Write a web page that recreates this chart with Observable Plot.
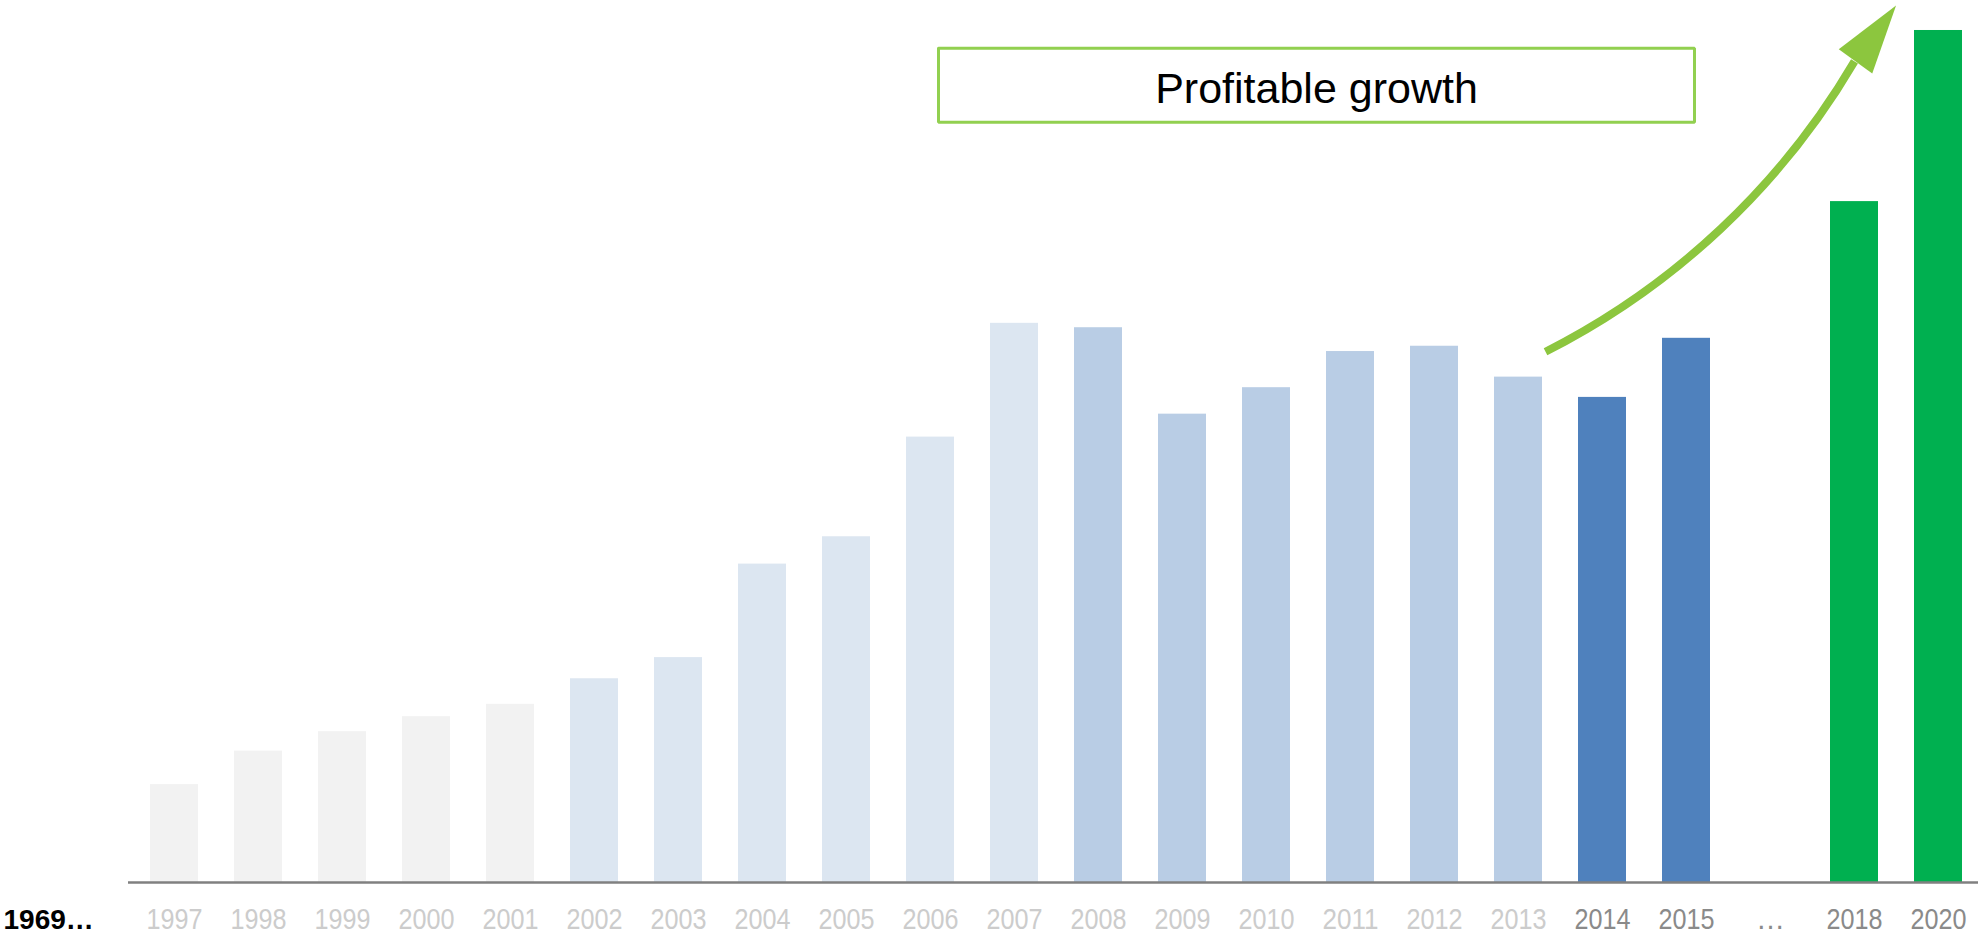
<!DOCTYPE html>
<html>
<head>
<meta charset="utf-8">
<script src="https://cdn.jsdelivr.net/npm/d3@7"></script>
<script src="https://cdn.jsdelivr.net/npm/@observablehq/plot@0.6"></script>
<style>
  html, body { margin: 0; padding: 0; background: #ffffff; }
  #chart svg { display: block; }
</style>
</head>
<body>
<div id="chart"></div>
<script>
// ---- data ----
const years = ["1997","1998","1999","2000","2001","2002","2003","2004","2005","2006","2007",
               "2008","2009","2010","2011","2012","2013","2014","2015","…","2018","2020"];
const values = [11.1, 14.9, 17.1, 18.8, 20.2, 23.1, 25.5, 36.1, 39.2, 50.5, 63.4,
                62.9, 53.1, 56.1, 60.2, 60.8, 57.3, 55.0, 61.7, null, 77.2, 96.6];
const phases = ["early","early","early","early","early",
                "expansion","expansion","expansion","expansion","expansion","expansion",
                "crisis","crisis","crisis","crisis","crisis","crisis",
                "recent","recent","gap","target","target"];
const phaseDomain = ["early","expansion","crisis","recent","target"];
const phaseColors = ["#f2f2f2","#dce6f1","#b9cde5","#4f81bd","#00b050"];
const startLabel = "1969…";
const fadedLabels = years.slice(0, 17);   // 1997–2013
const strongLabels = years.slice(17);     // 2014 … 2020

// annotation (in data space: category + value)
const boxLabel = "Profitable growth";
const boxFrom = "2006", boxTo = "2015", boxTop = 94.6, boxBottom = 86.2, boxCenterCat = "2011";
const arrowFrom = {year: "2013", value: 58.7};
const arrowTo = {year: "2018", value: 93.1};

const table = years.map((year, i) => ({year, value: values[i], phase: phases[i]}))
                   .filter(d => d.value != null);

const boxPath = [
  {year: boxFrom, value: boxTop}, {year: boxTo, value: boxTop},
  {year: boxTo, value: boxBottom}, {year: boxFrom, value: boxBottom},
  {year: boxFrom, value: boxTop}
];

const green = "#8cc63e";
const headSymbol = {
  draw(context, size) {
    const r = Math.sqrt(size / Math.PI);
    const w = r * 0.3;
    context.moveTo(-w, 0);
    context.lineTo(0, -r);
    context.lineTo(w, 0);
    context.closePath();
  }
};

const labelFont = "'Liberation Sans', Arial, sans-serif";

const chart = Plot.plot({
  width: 1978,
  height: 935,
  marginLeft: 128,
  marginRight: 0,
  marginTop: 0,
  marginBottom: 53,
  style: {background: "#ffffff", overflow: "visible"},
  x: {axis: null, domain: years, range: [128, 1985], paddingInner: 0.425, paddingOuter: 0.2125},
  y: {axis: null, domain: [0, 100]},
  color: {domain: phaseDomain, range: phaseColors},
  marks: [
    Plot.barY(table, {x: "year", y: "value", fill: "phase"}),
    Plot.ruleY([0], {stroke: "#808080", strokeWidth: 2.5}),
    Plot.text(fadedLabels, {x: d => d, frameAnchor: "bottom", dy: 46, text: d => d,
      fill: "#cccccc", fontSize: 29, fontFamily: labelFont}),
    Plot.text(strongLabels, {x: d => d, frameAnchor: "bottom", dy: 46, text: d => d,
      fill: "#8a8a8a", fontSize: 29, fontFamily: labelFont}),
    Plot.text([startLabel], {frameAnchor: "bottom-left", dx: -125, dy: 46, text: d => d,
      textAnchor: "start", fill: "#000000", fontSize: 28, fontWeight: "bold",
      fontFamily: "'Liberation Sans', Arial, sans-serif"}),
    Plot.line(boxPath, {x: "year", y: "value", dx: 8, stroke: "#92d050", strokeWidth: 3,
      strokeLinejoin: "miter"}),
    Plot.text([boxLabel], {x: () => boxCenterCat, y: () => (boxTop + boxBottom) / 2, dx: -34, dy: 4,
      text: d => d, fill: "#000000", fontSize: 43, fontFamily: "'Liberation Sans', Arial, sans-serif"}),
    Plot.arrow([0], {x1: () => arrowFrom.year, y1: () => arrowFrom.value,
      x2: () => arrowTo.year, y2: () => arrowTo.value, bend: -17.5, insetStart: 30,
      headLength: 0, stroke: green, strokeWidth: 8, strokeLinecap: "butt"}),
    Plot.dot([0], {x: () => arrowTo.year, y: () => arrowTo.value, dx: 1, r: 69,
      symbol: headSymbol, rotate: 36, fill: green, stroke: "none"})
  ]
});

// narrow the year labels slightly (Calibri-like proportions)
d3.select(chart).selectAll("text").each(function() {
  const t = this.textContent;
  if (/^\d{4}$/.test(t)) {
    this.setAttribute("textLength", 56);
    this.setAttribute("lengthAdjust", "spacingAndGlyphs");
  }
});

document.getElementById("chart").appendChild(chart);
</script>
</body>
</html>
